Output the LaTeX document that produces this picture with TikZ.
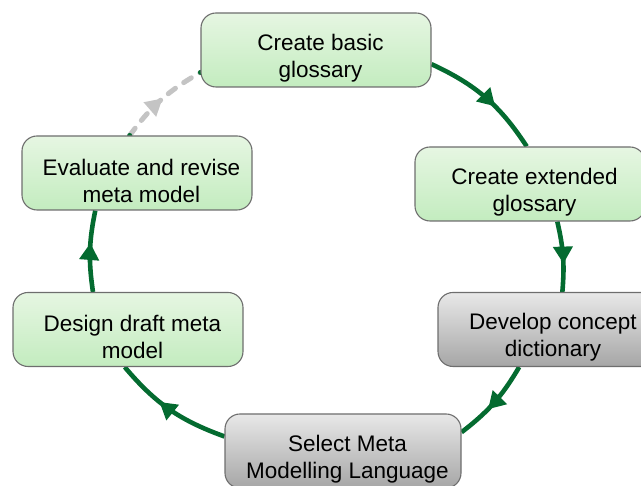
\documentclass[tikz,border=0pt]{standalone}
\usepackage{fontspec}
\setmainfont{Liberation Sans}
\usetikzlibrary{arrows.meta,decorations.markings,backgrounds}
\definecolor{cyc}{HTML}{046B30}
\definecolor{gtop}{HTML}{E6F6E2}
\definecolor{gbot}{HTML}{C3ECBF}
\definecolor{ytop}{HTML}{E8E8E8}
\definecolor{ybot}{HTML}{A6A6A6}
\definecolor{bord}{HTML}{6E6E6E}
\definecolor{dashc}{HTML}{C4C4C4}
\newcommand{\mylnb}[1]{\hspace*{9pt}#1}
\newcommand{\mylna}[1]{\rule{0pt}{32pt}\hspace*{9pt}#1}
\newcommand{\mylnc}[1]{\rule{0pt}{32pt}#1}
\tikzset{
  stepbox/.style={rectangle, rounded corners=15pt, draw=bord, line width=1.1pt,
    minimum width=230pt, minimum height=74pt, inner sep=0pt, align=center,
    font=\fontsize{22.5}{27}\selectfont, text=black},
  greenbox/.style={stepbox, top color=gtop, bottom color=gbot},
  graybox/.style={stepbox, top color=ytop, bottom color=ybot},
  cycarrow/.style={draw=cyc, line width=4.6pt, postaction={decorate},
    decoration={markings, mark=at position 0.6 with {\arrow[cyc]{Triangle[length=17pt,width=19pt]}}}},
  dasharrow/.style={draw=dashc, line width=5pt, line cap=round, dash pattern=on 9pt off 10pt, postaction={decorate},
    decoration={markings, mark=at position 0.52 with {\arrow[dashc]{Triangle[length=17pt,width=18pt]}}}}
}
\begin{document}
\begin{tikzpicture}[x=1pt,y=1pt]
\useasboundingbox (0,0) rectangle (641,486);
\clip (0,0) rectangle (641,486);
\node[greenbox] (A) at (316,436) {\mylna{Create basic}\\\mylnb{glossary}};
\node[greenbox] (B) at (530,302) {\mylna{Create extended}\\\mylnb{glossary}};
\node[graybox]  (C) at (553,156.5) {\mylnc{Develop concept}\\dictionary};
\node[graybox, minimum width=236pt]  (D) at (343,35) {\mylna{Select Meta}\\\mylnb{Modelling Language}};
\node[greenbox] (E) at (128,156.5) {\mylna{Design draft meta}\\\mylnb{model}};
\node[greenbox] (F) at (137,313) {\mylna{Evaluate and revise}\\\mylnb{meta model}};
\begin{scope}[on background layer]
\draw[cycarrow] (A.-7.4) to[bend left=16] (B.95);
\draw[cycarrow] (B.-54) to[bend left=9] (C.76);
\draw[cycarrow] (C.-132) to[bend left=11] (D.9);
\draw[cycarrow] (D.173) to[bend left=15] (E.-95);
\draw[cycarrow] (E.133) to[bend left=10] (F.-138);
\draw[dasharrow] (F.101) to[bend left=12] (A.191);
\fill[cyc] (F.101) circle (2.5pt);
\fill[cyc] (A.191) circle (2.5pt);
\end{scope}
\end{tikzpicture}
\end{document}
